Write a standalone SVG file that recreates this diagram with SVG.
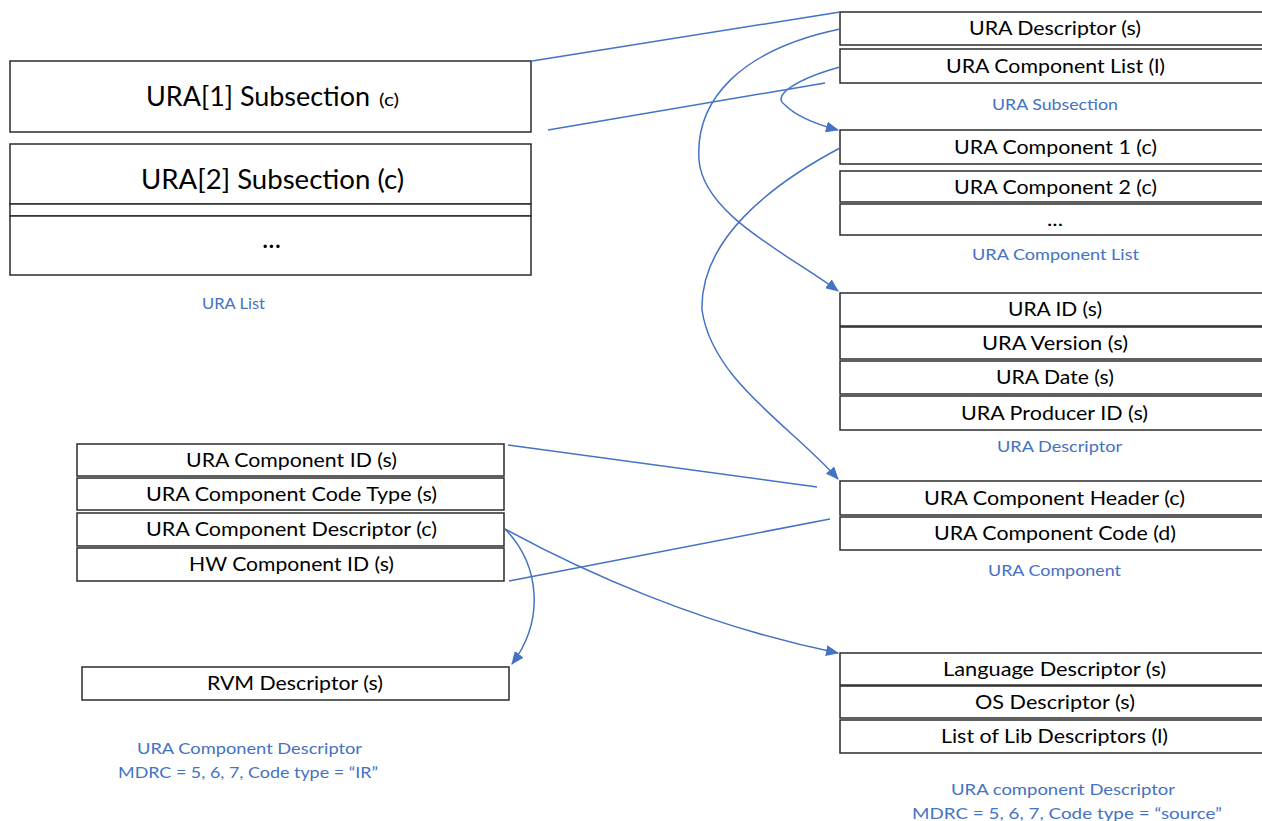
<svg xmlns="http://www.w3.org/2000/svg" width="1262" height="821" viewBox="0 0 1262 821">
  <style>
    .box { fill: #ffffff; stroke: #2b2b2b; stroke-width: 1.5; }
    .t { font-family: Lato, "Open Sans", "Liberation Sans", sans-serif; font-size: 19px; fill: #000000; }
    .big { font-family: Lato, "Open Sans", "Liberation Sans", sans-serif; font-size: 26px; fill: #000000; }
    .small { font-family: Lato, "Open Sans", "Liberation Sans", sans-serif; font-size: 18px; fill: #000000; }
    .lbl { font-family: Lato, "Open Sans", "Liberation Sans", sans-serif; font-size: 16px; fill: #4472C4; }
    .conn { fill: none; stroke: #4472C4; stroke-width: 1.5; }
  </style>
  <defs>
    <marker id="arrow" markerUnits="userSpaceOnUse" markerWidth="13" markerHeight="11" refX="12" refY="5.5" orient="auto">
      <path d="M0,0 L13,5.5 L0,11 z" fill="#4472C4"/>
    </marker>
  </defs>
  <rect width="1262" height="821" fill="#ffffff"/>

  <!-- URA list (left top) -->
  <g id="ura-list">
    <rect class="box" x="10" y="61" width="521" height="71"/>
    <text class="big" x="146" y="106" textLength="224" lengthAdjust="spacingAndGlyphs">URA[1] Subsection</text>
    <text class="small" x="379" y="106" textLength="20" lengthAdjust="spacingAndGlyphs">(c)</text>
    <rect class="box" x="10" y="144" width="521" height="60"/>
    <text class="big" x="141" y="189" textLength="263" lengthAdjust="spacingAndGlyphs">URA[2] Subsection (c)</text>
    <rect class="box" x="10" y="204" width="521" height="12"/>
    <rect class="box" x="10" y="216" width="521" height="59"/>
    <text class="big" x="262" y="248" textLength="19" lengthAdjust="spacingAndGlyphs">...</text>
    <text class="lbl" x="202" y="309" textLength="63" lengthAdjust="spacingAndGlyphs">URA List</text>
  </g>

  <!-- URA subsection -->
  <g id="ura-subsection">
    <rect class="box" x="840" y="12" width="430" height="33"/>
    <text class="t" x="969" y="35" textLength="172" lengthAdjust="spacingAndGlyphs">URA Descriptor (s)</text>
    <rect class="box" x="840" y="49" width="430" height="34"/>
    <text class="t" x="946" y="73" textLength="219" lengthAdjust="spacingAndGlyphs">URA Component List (l)</text>
    <text class="lbl" x="992" y="110" textLength="126" lengthAdjust="spacingAndGlyphs">URA Subsection</text>
  </g>

  <!-- URA component list -->
  <g id="ura-component-list">
    <rect class="box" x="840" y="130" width="430" height="34"/>
    <text class="t" x="954" y="154" textLength="203" lengthAdjust="spacingAndGlyphs">URA Component 1 (c)</text>
    <rect class="box" x="840" y="171" width="430" height="31"/>
    <text class="t" x="954" y="194" textLength="203" lengthAdjust="spacingAndGlyphs">URA Component 2 (c)</text>
    <rect class="box" x="840" y="204" width="430" height="31"/>
    <text class="t" x="1047" y="226" textLength="16" lengthAdjust="spacingAndGlyphs">...</text>
    <text class="lbl" x="972" y="260" textLength="167" lengthAdjust="spacingAndGlyphs">URA Component List</text>
  </g>

  <!-- URA descriptor -->
  <g id="ura-descriptor">
    <rect class="box" x="840" y="293" width="430" height="33"/>
    <text class="t" x="1008" y="316" textLength="94" lengthAdjust="spacingAndGlyphs">URA ID (s)</text>
    <rect class="box" x="840" y="327" width="430" height="32"/>
    <text class="t" x="982" y="350" textLength="146" lengthAdjust="spacingAndGlyphs">URA Version (s)</text>
    <rect class="box" x="840" y="361" width="430" height="33"/>
    <text class="t" x="996" y="384" textLength="118" lengthAdjust="spacingAndGlyphs">URA Date (s)</text>
    <rect class="box" x="840" y="396" width="430" height="34"/>
    <text class="t" x="961" y="420" textLength="187" lengthAdjust="spacingAndGlyphs">URA Producer ID (s)</text>
    <text class="lbl" x="997" y="452" textLength="125" lengthAdjust="spacingAndGlyphs">URA Descriptor</text>
  </g>

  <!-- URA component -->
  <g id="ura-component">
    <rect class="box" x="840" y="481" width="430" height="34"/>
    <text class="t" x="924" y="505" textLength="261" lengthAdjust="spacingAndGlyphs">URA Component Header (c)</text>
    <rect class="box" x="840" y="517" width="430" height="33"/>
    <text class="t" x="934" y="540" textLength="242" lengthAdjust="spacingAndGlyphs">URA Component Code (d)</text>
    <text class="lbl" x="988" y="576" textLength="133" lengthAdjust="spacingAndGlyphs">URA Component</text>
  </g>

  <!-- URA component descriptor, source code -->
  <g id="ura-component-descriptor-source">
    <rect class="box" x="840" y="653" width="430" height="32"/>
    <text class="t" x="943" y="676" textLength="223" lengthAdjust="spacingAndGlyphs">Language Descriptor (s)</text>
    <rect class="box" x="840" y="686" width="430" height="32"/>
    <text class="t" x="975" y="709" textLength="160" lengthAdjust="spacingAndGlyphs">OS Descriptor (s)</text>
    <rect class="box" x="840" y="720" width="430" height="33"/>
    <text class="t" x="941" y="743" textLength="227" lengthAdjust="spacingAndGlyphs">List of Lib Descriptors (l)</text>
    <text class="lbl" x="951" y="795" textLength="224" lengthAdjust="spacingAndGlyphs">URA component Descriptor</text>
    <text class="lbl" x="912" y="819" textLength="310" lengthAdjust="spacingAndGlyphs">MDRC = 5, 6, 7, Code type = “source”</text>
  </g>

  <!-- URA component header fields -->
  <g id="ura-component-header">
    <rect class="box" x="77" y="444" width="427" height="32"/>
    <text class="t" x="186" y="467" textLength="211" lengthAdjust="spacingAndGlyphs">URA Component ID (s)</text>
    <rect class="box" x="77" y="478" width="427" height="32"/>
    <text class="t" x="146" y="501" textLength="291" lengthAdjust="spacingAndGlyphs">URA Component Code Type (s)</text>
    <rect class="box" x="77" y="513" width="427" height="33"/>
    <text class="t" x="146" y="536" textLength="291" lengthAdjust="spacingAndGlyphs">URA Component Descriptor (c)</text>
    <rect class="box" x="77" y="548" width="427" height="33"/>
    <text class="t" x="189" y="571" textLength="205" lengthAdjust="spacingAndGlyphs">HW Component ID (s)</text>
  </g>

  <!-- URA component descriptor, IR code -->
  <g id="ura-component-descriptor-ir">
    <rect class="box" x="82" y="667" width="427" height="33"/>
    <text class="t" x="207" y="690" textLength="176" lengthAdjust="spacingAndGlyphs">RVM Descriptor (s)</text>
    <text class="lbl" x="137" y="754" textLength="225" lengthAdjust="spacingAndGlyphs">URA Component Descriptor</text>
    <text class="lbl" x="118" y="778" textLength="260" lengthAdjust="spacingAndGlyphs">MDRC = 5, 6, 7, Code type = “IR”</text>
  </g>

  <!-- connectors -->
  <g id="connectors">
    <line class="conn" x1="532" y1="61" x2="840" y2="12"/>
    <line class="conn" x1="548" y1="130" x2="825" y2="83"/>
    <line class="conn" x1="508" y1="445" x2="817" y2="487"/>
    <line class="conn" x1="509" y1="581" x2="830" y2="519"/>
    <path class="conn" d="M840,29 C740,50 695,100 699,160 C703,215 790,255 838,291" marker-end="url(#arrow)"/>
    <path class="conn" d="M840,67 C800,78 770,95 785,105 C795,115 815,124 838,130" marker-end="url(#arrow)"/>
    <path class="conn" d="M840,148 C770,185 700,240 702,310 C712,380 790,425 838,479" marker-end="url(#arrow)"/>
    <path class="conn" d="M505,529 C540,565 545,620 512,664" marker-end="url(#arrow)"/>
    <path class="conn" d="M505,529 C580,570 700,625 838,653" marker-end="url(#arrow)"/>
  </g>
</svg>
